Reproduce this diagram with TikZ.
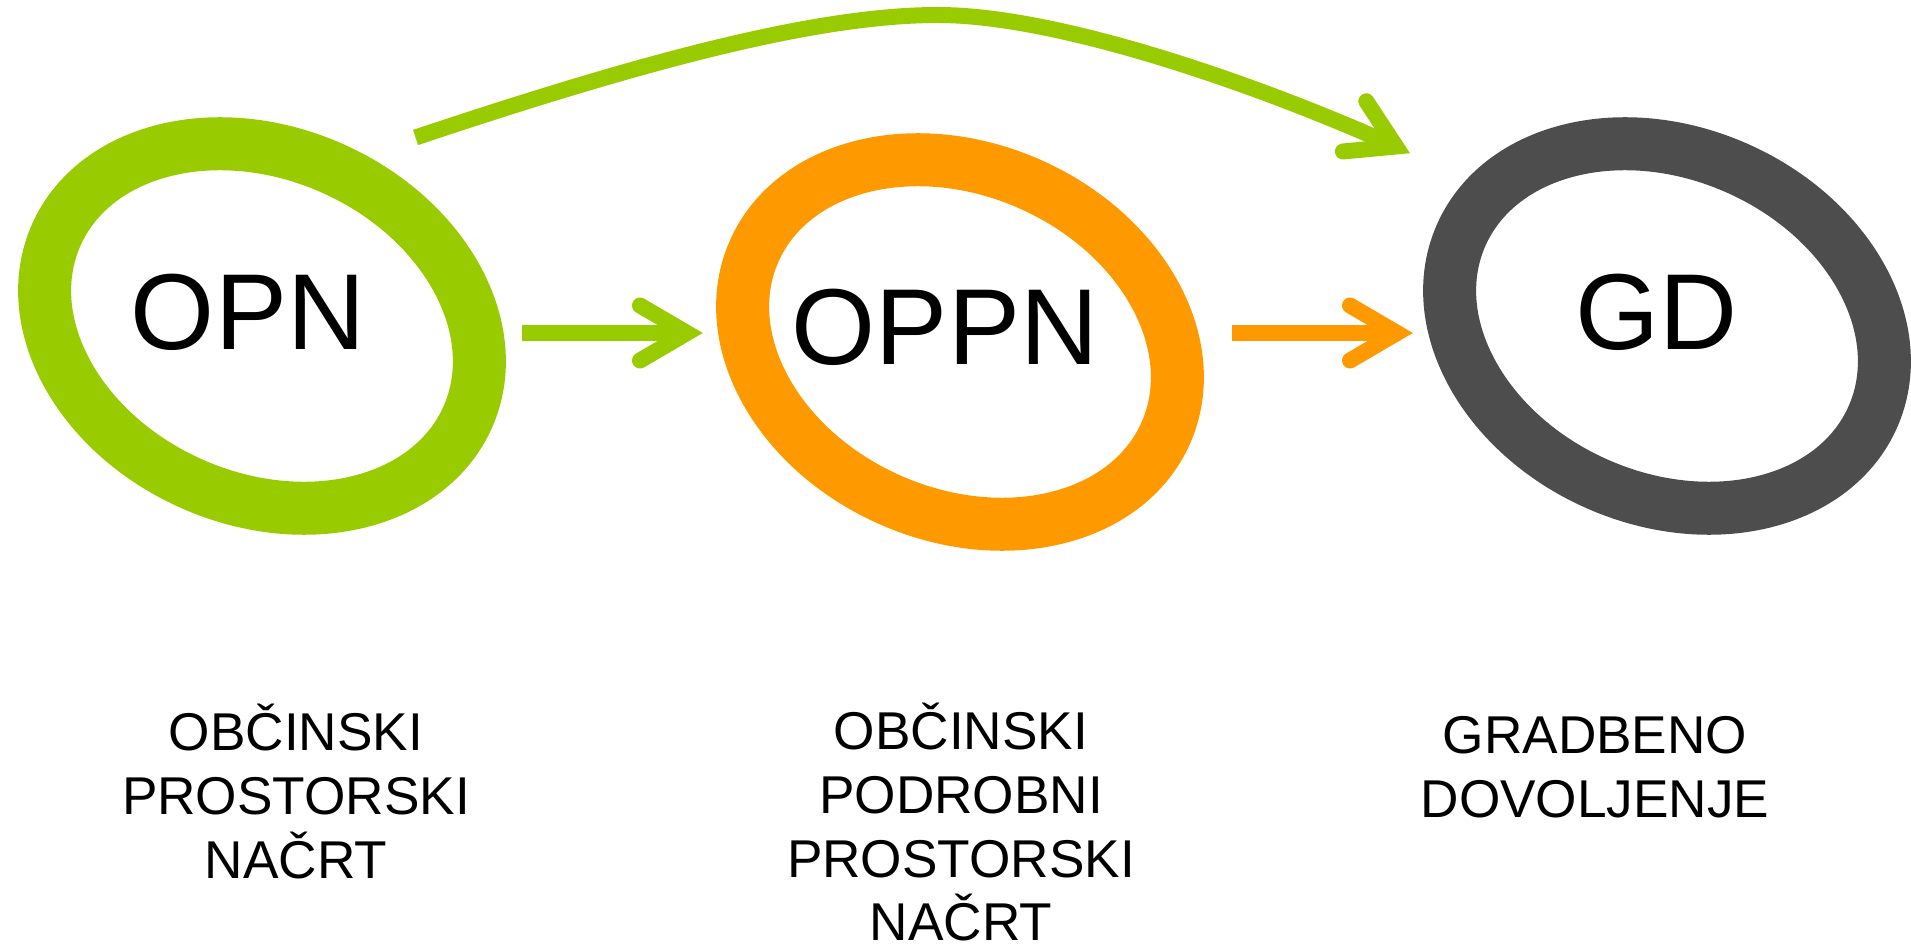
\documentclass[tikz,border=0pt]{standalone}
\usepackage{fontspec}
\setmainfont{Liberation Sans}
\usetikzlibrary{shapes.geometric,calc}
\definecolor{cgreen}{HTML}{99CC00}
\definecolor{corange}{HTML}{FF9900}
\definecolor{cgray}{HTML}{4D4D4D}
\tikzset{
  ring/.style={shape=ellipse, minimum width=225pt, minimum height=172.7pt,
    inner sep=0pt, outer sep=0pt, rotate=-23.8, line width=26.5pt},
  bigtxt/.style={inner sep=0pt, font=\fontsize{54pt}{60pt}\selectfont},
  labtxt/.style={inner sep=0pt, anchor=base, font=\fontsize{26.6pt}{32pt}\selectfont},
  shaft/.style={line width=8pt, line cap=butt},
  barb/.style={line width=8pt, line cap=round, line join=miter, miter limit=10},
}
\begin{document}
\begin{tikzpicture}[x=0.5pt, y=-0.5pt]
\useasboundingbox (0,0) rectangle (1911,946);

% rings
\node[ring, draw=cgreen] (opnring) at (262,326) {};
\node[ring, draw=corange] (oppnring) at (960,342) {};
\node[ring, draw=cgray] (gdring) at (1667,326) {};

% ring texts
\node[bigtxt] (opn) at (248,312.5) {OPN};
\node[bigtxt] (oppn) at (945,327.5) {OPPN};
\node[bigtxt] (gd) at (1656.5,312) {GD};

% straight green arrow
\coordinate (g1s) at (522,333);
\coordinate (g1v) at (687,333);
\draw[shaft, cgreen] (g1s) -- (g1v);
\draw[barb, cgreen] ($(g1v)+(-47,-27.5)$) -- (g1v) -- ($(g1v)+(-47,27.5)$);

% straight orange arrow
\coordinate (o1s) at (1232,333);
\coordinate (o1v) at (1397,333);
\draw[shaft, corange] (o1s) -- (o1v);
\draw[barb, corange] ($(o1v)+(-47,-27.5)$) -- (o1v) -- ($(o1v)+(-47,27.5)$);

% curved green arrow
\coordinate (cs) at (415.5,137.5);
\coordinate (ctop) at (938,15);
\coordinate (cv) at (1396,146.5);
\draw[shaft, cgreen] (cs) .. controls (640,62.5) and (815,15) .. (ctop)
  .. controls (1055,15) and (1250,81) .. (cv);
\draw[barb, cgreen] ($(cv)+(-29.7,-45.2)$) -- (cv) -- ($(cv)+(-53.1,5.0)$);

% labels
\node[labtxt] (l1a) at (296,750) {OBČINSKI};
\node[labtxt] (l1b) at (296,814) {PROSTORSKI};
\node[labtxt] (l1c) at (296,878) {NAČRT};

\node[labtxt] (l2a) at (961,749) {OBČINSKI};
\node[labtxt] (l2b) at (961,813) {PODROBNI};
\node[labtxt] (l2c) at (961,877) {PROSTORSKI};
\node[labtxt] (l2d) at (961,940.5) {NAČRT};

\node[labtxt] (l3a) at (1595,753) {GRADBENO};
\node[labtxt] (l3b) at (1595,817) {DOVOLJENJE};
\end{tikzpicture}
\end{document}
